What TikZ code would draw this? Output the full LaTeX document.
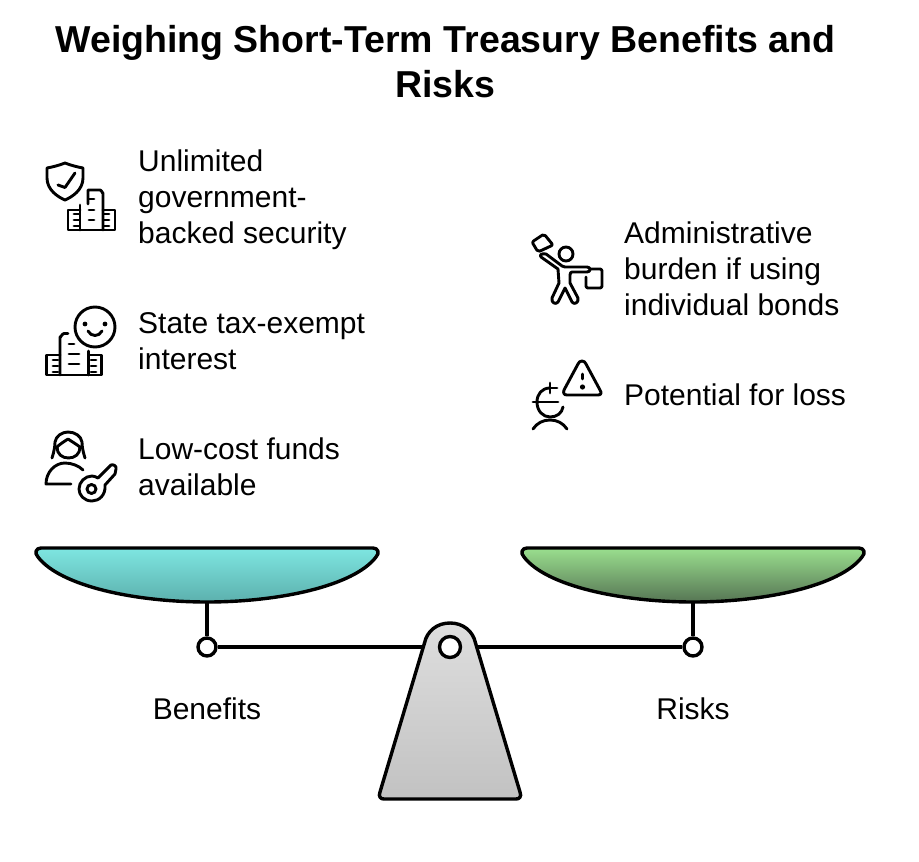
\documentclass[tikz,border=0pt]{standalone}
\usepackage{fontspec}
\setmainfont{Liberation Sans}
\definecolor{pantop}{HTML}{7EE6E1}
\definecolor{panbottom}{HTML}{5CB0AD}
\definecolor{greentop}{HTML}{9ADF8E}
\definecolor{greenbottom}{HTML}{567554}
\tikzset{
  itemtext/.style={anchor=north west,inner sep=0pt,align=left,font=\fontsize{30}{36}\selectfont},
  armlabel/.style={inner sep=0pt,font=\fontsize{30}{36}\selectfont},
  icon/.style={line width=2.9pt,line cap=round,line join=round},
  scaleline/.style={line width=3.4pt,line join=round},
  joint/.style={circle,draw,fill=white,line width=3.4pt,minimum size=18pt,inner sep=0pt},
}
\begin{document}
\begin{tikzpicture}[x=1pt,y=-1pt]
    \useasboundingbox (0,0) rectangle (919,862);

    % title
    \node[inner sep=0pt,align=center,font=\fontsize{37.5}{45}\bfseries\selectfont] (title) at (445.5,62) {Weighing Short-Term Treasury Benefits and\\Risks};

    % left column
    \node[itemtext] (security) at (138,150) {Unlimited\\government-\\backed security};
    \node[itemtext] (taxfree) at (138,312) {State tax-exempt\\interest};
    \node[itemtext] (lowcost) at (138,438) {Low-cost funds\\available};

    % right column
    \node[itemtext] (burden) at (624,222) {Administrative\\burden if using\\individual bonds};
    \node[itemtext] (loss) at (624,384) {Potential for loss};

    % shield and buildings
    \draw[icon] (47,168) .. controls (53,167) and (60,165) .. (65,163) .. controls (70,165) and (77,167) .. (83,168) -- (83,178) .. controls (83,190) and (72,197) .. (65,200) .. controls (58,197) and (47,190) .. (47,178) -- cycle;
    \draw[icon] (58,185) -- (65,187.5) -- (75,173);
    \draw[icon] (80,205) -- (80,230);
    \draw[icon] (88,204) -- (88,190) -- (100,190) to[out=0,in=-90] (103,193) -- (103,230);
    \draw[icon] (80,210) -- (68,210) -- (68,230) -- (115,230) -- (115,210) -- (103,210);
    \foreach \y in {199,210,220} \draw[icon] (89,\y) -- (94,\y);
    \foreach \y in {214,220,226} {
        \draw[icon] (74,\y) -- (79,\y);
        \draw[icon] (104,\y) -- (109,\y);
    }

    % smiley and buildings
    \draw[icon] (95,327) circle (20);
    \fill (85,324) circle (2.4);
    \fill (105,324) circle (2.4);
    \draw[icon] (88,331) .. controls (91,337) and (99,337) .. (102,331);
    \draw[icon] (60,375) -- (60,337) to[out=-90,in=180] (64,333.5) -- (68,333.5);
    \draw[icon] (60,355) -- (46.7,355) -- (46.7,375) -- (101.7,375) -- (101.7,355) -- (88.5,355) (88.5,351) -- (88.5,375);
    \draw[icon] (69,344) -- (74,344) (69,354) -- (79,354) (69,364) -- (79,364);
    \foreach \y in {360,366,372} {
        \draw[icon] (53,\y) -- (58,\y);
        \draw[icon] (91,\y) -- (96,\y);
    }

    % person and key
    \draw[icon] (52,458) .. controls (54,452) and (55,446) .. (55,442) .. controls (56,436) and (62,432) .. (68,432) .. controls (75,432) and (81,436) .. (82,442) .. controls (82,446) and (83,452) .. (85,458);
    \draw[icon] (57,447) .. controls (60,444) and (65,441) .. (68,439) .. controls (71,441) and (76,444) .. (80,447);
    \draw[icon] (57,447) .. controls (57,454) and (62,458) .. (68.5,458) .. controls (75,458) and (80,454) .. (80,447);
    \draw[icon] (71,484) -- (46,484) .. controls (46,472) and (55,463) .. (65,463) .. controls (72,463) and (79,466) .. (83,470);
    \draw[icon] (91.5,489) circle (4.5);
    \draw[icon] (98,478) -- (111,465) .. controls (113,464) and (117,466) .. (116,469) -- (115,474) -- (105,485) .. controls (106,495) and (99,501) .. (92,501) .. controls (84,501) and (79,495) .. (79,489) .. controls (79,482) and (85,476) .. (92,476) .. controls (94,476) and (96,477) .. (98,478);

    % worker with boxes
    \draw[icon,rounded corners=2pt] (544,234) -- (532,242) -- (538,252) -- (553,245) -- cycle;
    \draw[icon] (566,254) circle (7);
    \draw[icon] (541,257) -- (558,269) -- (559,283) -- (552,298) .. controls (551,303) and (556,305) .. (558,302) -- (565,288) -- (572,302) .. controls (574,305) and (579,303) .. (578,298) -- (570,283) -- (570,275) .. controls (570,273) and (571,272) .. (572,272) -- (587,272) .. controls (591,272) and (591,267) .. (587,267) -- (565,267) -- (562,266) -- (546,254) .. controls (542,253) and (539,255) .. (541,257);
    \draw[icon,rounded corners=2pt] (590,269) -- (602,269) -- (602,288) -- (586,288) -- (586,277);

    % person and warning sign
    \draw[icon] (582,361) .. controls (580,361) and (579,362) .. (578,364) -- (564,390) .. controls (563,393) and (564,395) .. (567,395) -- (598,395) .. controls (601,395) and (602,393) .. (600,390) -- (586,364) .. controls (585,362) and (584,361) .. (582,361) -- cycle;
    \draw[icon] (582.5,374) -- (582.5,379);
    \fill (582.5,387) circle (2.6);
    \draw[icon] (550,388) .. controls (542,388) and (537,394) .. (537,402) .. controls (537,411) and (543,417) .. (550,417) .. controls (557,417) and (562,413) .. (563,407);
    \draw[icon] (533,402) -- (558,402);
    \draw[icon] (550,383) -- (550,393) (550,388) -- (557,388);
    \draw[icon] (533,429) .. controls (537,423) and (543,420) .. (550,420) .. controls (557,420) and (563,423) .. (567,429);

    % scale pans
    \draw[scaleline,top color=pantop,bottom color=panbottom] (41,548) -- (373,548) .. controls (378,548) and (380,553) .. (376,557) .. controls (354,586) and (279,602) .. (207,602) .. controls (135,602) and (60,586) .. (38,557) .. controls (34,553) and (36,548) .. (41,548) -- cycle;
    \draw[scaleline,top color=greentop,bottom color=greenbottom] (527,548) -- (859,548) .. controls (864,548) and (866,553) .. (862,557) .. controls (840,586) and (765,602) .. (693,602) .. controls (621,602) and (546,586) .. (524,557) .. controls (520,553) and (522,548) .. (527,548) -- cycle;
    \coordinate (leftpan) at (207,602);
    \coordinate (rightpan) at (693,602);

    % beam and joints
    \node[joint] (leftjoint) at (207,647) {};
    \node[joint] (rightjoint) at (693,647) {};
    \coordinate (middle) at (450,647);
    \draw[scaleline] (leftpan) -- (leftjoint);
    \draw[scaleline] (rightpan) -- (rightjoint);
    \draw[scaleline] (leftjoint) -- (middle);
    \draw[scaleline] (rightjoint) -- (middle);

    % stand
    \draw[scaleline,top color=black!13,bottom color=black!24] (424.5,643) .. controls (427,631) and (437,623) .. (450,623) .. controls (463,623) and (473,631) .. (475.5,643) -- (520,792) .. controls (522,797) and (519,799) .. (516,799) -- (384,799) .. controls (381,799) and (378,797) .. (380,792) -- cycle;
    \node[joint,minimum size=21pt] (pivot) at (middle) {};

    % arm labels
    \node[armlabel] (benefits) at (207,709) {Benefits};
    \node[armlabel] (risks) at (693,709) {Risks};
\end{tikzpicture}
\end{document}
